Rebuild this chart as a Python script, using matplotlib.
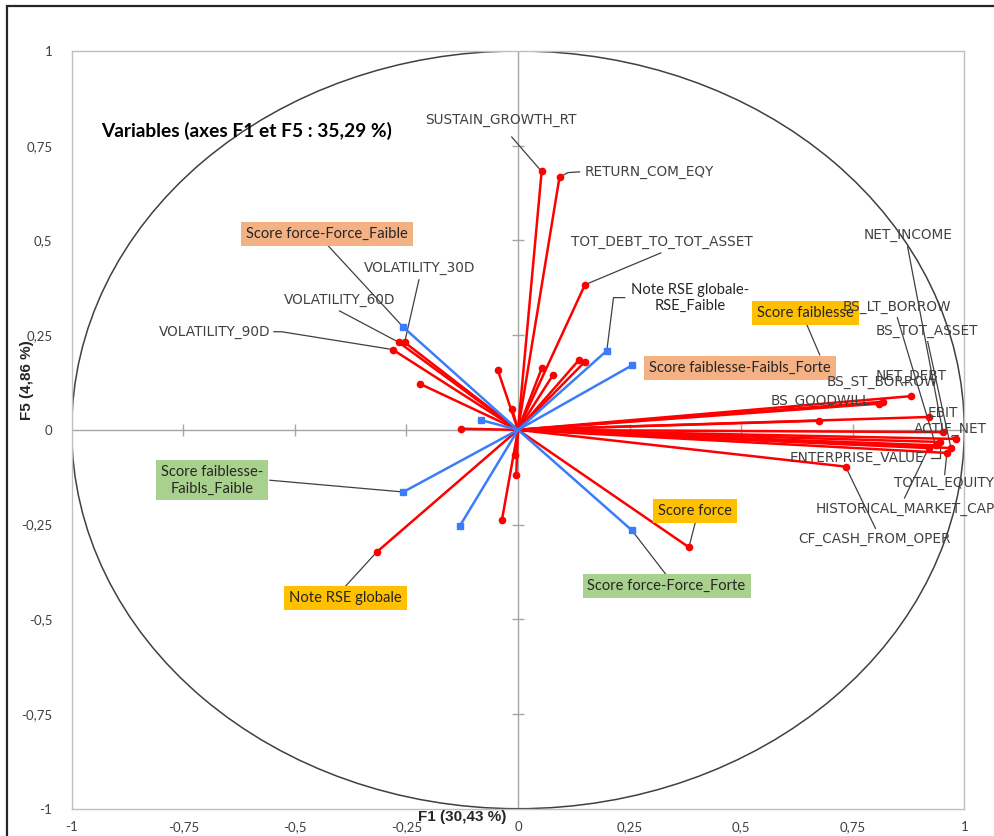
import matplotlib
matplotlib.use("Agg")
import matplotlib.pyplot as plt
from matplotlib.patches import Ellipse, Rectangle

# ---------------- data ----------------
# active / supplementary quantitative variables (red)
var_names = ["SUSTAIN_GROWTH_RT", "RETURN_COM_EQY", "TOT_DEBT_TO_TOT_ASSET",
             "VOLATILITY_30D", "VOLATILITY_60D", "VOLATILITY_90D",
             "", "", "", "", "", "", "", "", "", "", "",
             "Note RSE globale", "Score force", "Score faiblesse",
             "NET_DEBT", "BS_ST_BORROW", "BS_GOODWILL", "EBIT", "NET_INCOME",
             "ACTIF_NET", "ENTERPRISE_VALUE", "BS_TOT_ASSET",
             "HISTORICAL_MARKET_CAP", "TOTAL_EQUITY", "BS_LT_BORROW",
             "CF_CASH_FROM_OPER"]
var_f1 = [0.053, 0.093, 0.150,
          -0.254, -0.267, -0.281,
          -0.219, -0.128, -0.045, -0.013, 0.053, 0.078, 0.137, 0.150, -0.007, -0.004, -0.036,
          -0.317, 0.383, 0.674,
          0.881, 0.817, 0.808, 0.922, 0.952,
          0.981, 0.945, 0.970,
          0.920, 0.961, 0.936,
          0.734]
var_f5 = [0.682, 0.667, 0.383,
          0.231, 0.231, 0.212,
          0.121, 0.003, 0.157, 0.054, 0.162, 0.144, 0.185, 0.180, -0.067, -0.120, -0.238,
          -0.323, -0.310, 0.024,
          0.089, 0.074, 0.069, 0.034, -0.006,
          -0.024, -0.032, -0.048,
          -0.048, -0.061, -0.041,
          -0.097]

# supplementary categories (blue)
cat_names = ["Score force-Force_Faible", "Note RSE globale-\nRSE_Faible",
             "Score faiblesse-Faibls_Forte", "", "Score faiblesse-\nFaibls_Faible",
             "", "Score force-Force_Forte"]
cat_f1 = [-0.257, 0.199, 0.255, -0.084, -0.257, -0.130, 0.255]
cat_f5 = [0.271, 0.209, 0.170, 0.026, -0.164, -0.253, -0.265]

tick_vals = [-1, -0.75, -0.5, -0.25, 0, 0.25, 0.5, 0.75, 1]
tick_labels = ["-1", "-0,75", "-0,5", "-0,25", "0", "0,25", "0,5", "0,75", "1"]

title = "Variables (axes F1 et F5 : 35,29 %)"
xlabel = "F1 (30,43 %)"
ylabel = "F5 (4,86 %)"

# ---------------- layout of labels (text centre, leader anchors, style) ----------------
label_layout = {
    "SUSTAIN_GROWTH_RT": (-0.039, 0.818, [(-0.014, 0.773)], "plain"),
    "RETURN_COM_EQY": (0.295, 0.681, [(0.138, 0.681), (0.112, 0.679)], "plain"),
    "TOT_DEBT_TO_TOT_ASSET": (0.322, 0.496, [(0.320, 0.467)], "plain"),
    "VOLATILITY_30D": (-0.221, 0.428, [(-0.222, 0.396)], "plain"),
    "VOLATILITY_60D": (-0.400, 0.343, [(-0.400, 0.314)], "plain"),
    "VOLATILITY_90D": (-0.680, 0.257, [(-0.547, 0.259), (-0.530, 0.259)], "plain"),
    "Note RSE globale": (-0.386, -0.444, [(-0.389, -0.416)], "yellow"),
    "Score force": (0.396, -0.214, [(0.398, -0.241)], "yellow"),
    "Score faiblesse": (0.644, 0.309, [(0.647, 0.278), (0.676, 0.198)], "yellow"),
    "NET_INCOME": (0.873, 0.515, [(0.873, 0.483)], "plain"),
    "BS_LT_BORROW": (0.848, 0.325, [(0.850, 0.296)], "plain"),
    "BS_TOT_ASSET": (0.917, 0.262, [(0.918, 0.233)], "plain"),
    "NET_DEBT": (0.881, 0.141, [], "plain"),
    "BS_ST_BORROW": (0.816, 0.125, [], "plain"),
    "BS_GOODWILL": (0.678, 0.075, [], "plain"),
    "EBIT": (0.952, 0.045, [], "plain"),
    "ACTIF_NET": (0.969, 0.001, [(0.972, -0.018)], "plain"),
    "ENTERPRISE_VALUE": (0.759, -0.073, [(0.925, -0.073), (0.945, -0.073)], "plain"),
    "TOTAL_EQUITY": (0.954, -0.139, [(0.956, -0.118)], "plain"),
    "HISTORICAL_MARKET_CAP": (0.868, -0.208, [(0.866, -0.180)], "plain"),
    "CF_CASH_FROM_OPER": (0.799, -0.287, [(0.801, -0.260)], "plain"),
    "Score force-Force_Faible": (-0.428, 0.517, [(-0.427, 0.488)], "orange"),
    "Note RSE globale-\nRSE_Faible": (0.386, 0.349, [(0.239, 0.349), (0.214, 0.349)], "plain2"),
    "Score faiblesse-Faibls_Forte": (0.497, 0.164, [], "orange"),
    "Score faiblesse-\nFaibls_Faible": (-0.686, -0.133, [(-0.556, -0.133)], "green"),
    "Score force-Force_Forte": (0.333, -0.413, [(0.333, -0.384)], "green"),
}

box_colors = {"yellow": "#FFC000", "orange": "#F4B183", "green": "#A9D18E"}
red = "#FF0000"
blue = "#3C7CFA"
leader_col = "#404040"

# ---------------- figure ----------------
W, H = 995, 836
fig = plt.figure(figsize=(W / 100, H / 100), dpi=100)
fig.patch.set_facecolor("white")
fig.add_artist(Rectangle((7 / W, -0.05), 1.2, 1 - 6 / H + 0.05, transform=fig.transFigure,
                         fill=False, ec="#262626", lw=1.6))

ax = fig.add_axes([71.7 / W, 1 - 808.7 / H, (964.3 - 71.7) / W, (808.7 - 51) / H])
ax.set_xlim(-1, 1)
ax.set_ylim(-1, 1)
for s in ax.spines.values():
    s.set_color("#BFBFBF")
    s.set_linewidth(1.0)
ax.set_xticks(tick_vals)
ax.set_xticklabels(tick_labels)
ax.set_yticks(tick_vals)
ax.set_yticklabels(tick_labels)
ax.tick_params(length=0, labelsize=9.5, colors="#404040")
ax.tick_params(axis="x", pad=9)
ax.tick_params(axis="y", pad=14)
for lab in ax.get_xticklabels() + ax.get_yticklabels():
    lab.set_fontfamily("Lato")

# axis lines through the origin with tick marks
ax.axhline(0, color="#A6A6A6", lw=1.0, zorder=1)
ax.axvline(0, color="#A6A6A6", lw=1.0, zorder=1)
ax.plot(tick_vals[1:-1], [0] * (len(tick_vals) - 2), ls="none", marker="|",
        ms=9, mew=1.0, color="#A6A6A6", zorder=1)
ax.plot([0] * (len(tick_vals) - 2), tick_vals[1:-1], ls="none", marker="_",
        ms=9, mew=1.0, color="#A6A6A6", zorder=1)

# correlation circle
ax.add_patch(Ellipse((0, 0), 2, 2, fill=False, ec="#404040", lw=1.1, zorder=2))

# vectors
for x, y in zip(var_f1, var_f5):
    ax.plot([0, x], [0, y], color=red, lw=1.8, zorder=4, solid_capstyle="round")
    ax.plot([x], [y], marker="o", ms=4.5, color=red, zorder=5)
for x, y in zip(cat_f1, cat_f5):
    ax.plot([0, x], [0, y], color=blue, lw=1.8, zorder=4)
    ax.plot([x], [y], marker="s", ms=4.5, color=blue, zorder=5)

# labels
points = {}
for n, x, y in zip(var_names, var_f1, var_f5):
    if n:
        points[n] = (x, y)
for n, x, y in zip(cat_names, cat_f1, cat_f5):
    if n:
        points[n] = (x, y)

for name, (tx, ty, anchors, style) in label_layout.items():
    px, py = points[name]
    if anchors:
        xs = [a[0] for a in anchors]
        ys = [a[1] for a in anchors]
        if name != "Score faiblesse":
            xs.append(px)
            ys.append(py)
        ax.plot(xs, ys, color=leader_col, lw=0.9, zorder=3)
    if style in box_colors:
        ax.text(tx, ty, name, ha="center", va="center", fontsize=10.6, family="Lato",
                color="#262626", linespacing=1.25, zorder=7,
                bbox=dict(boxstyle="square,pad=0.33", fc=box_colors[style], ec="none"))
    elif style == "plain2":
        ax.text(tx, ty, name, ha="center", va="center", fontsize=10.6, family="Lato",
                color="#262626", linespacing=1.2, zorder=6)
    else:
        ax.text(tx, ty, name, ha="center", va="center", fontsize=9.8, family="DejaVu Sans",
                color="#404040", zorder=8)

ax.text(-0.935, 0.79, title, ha="left", va="center", fontsize=13.8, fontweight="bold",
        family="Lato", color="#000000", zorder=6)

fig.text(462 / W, 1 - 817 / H, xlabel, ha="center", va="center", fontsize=11,
         fontweight="bold", family="Liberation Sans", color="#262626")
fig.text(27 / W, 1 - 380 / H, ylabel, ha="center", va="center", fontsize=11,
         fontweight="bold", family="Liberation Sans", color="#262626", rotation=90)

fig.savefig("out.png", dpi=100)
